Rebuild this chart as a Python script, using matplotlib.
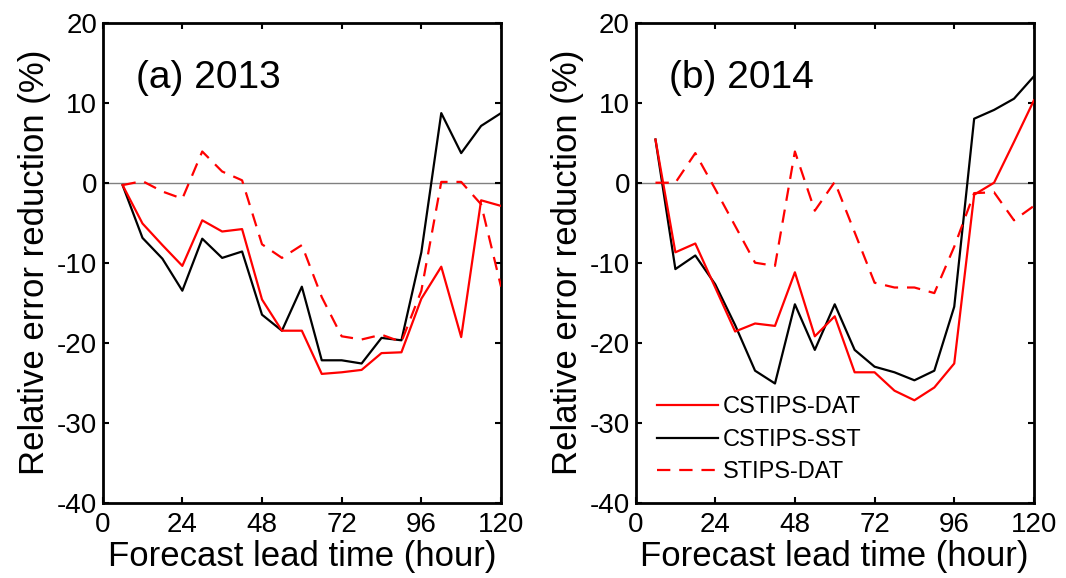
import numpy as np
import matplotlib.pyplot as plt

plt.rcParams['font.family'] = ['Liberation Sans', 'DejaVu Sans']
plt.rcParams['axes.unicode_minus'] = False

# forecast lead time (hour)
hours = [6, 12, 18, 24, 30, 36, 42, 48, 54, 60, 66, 72, 78, 84, 90, 96, 102, 108, 114, 120]

# (a) 2013
dat13 = [-0.3, -5.1, -7.8, -10.4, -4.7, -6.1, -5.8, -14.6, -18.5, -18.5, -23.9, -23.7, -23.4, -21.3, -21.2, -14.5, -10.5, -19.3, -2.2, -2.9]
sst13 = [-0.3, -6.9, -9.5, -13.5, -7.0, -9.4, -8.6, -16.5, -18.5, -13.0, -22.2, -22.2, -22.6, -19.4, -19.7, -8.7, 8.7, 3.7, 7.1, 8.7]
stips13 = [-0.3, 0.2, -1.1, -2.0, 3.9, 1.4, 0.3, -7.7, -9.4, -7.8, -14.3, -19.2, -19.6, -19.0, -19.9, -13.5, 0.1, 0.1, -2.7, -13.0]

# (b) 2014
dat14 = [5.4, -8.7, -7.6, -13.1, -18.6, -17.6, -17.9, -11.2, -19.2, -16.7, -23.7, -23.7, -26.0, -27.2, -25.6, -22.6, -1.5, 0.0, 5.1, 10.3]
sst14 = [5.4, -10.8, -9.1, -12.7, -17.8, -23.5, -25.1, -15.2, -20.9, -15.2, -20.9, -23.0, -23.7, -24.7, -23.5, -15.5, 8.0, 9.1, 10.5, 13.3]
stips14 = [0.0, 0.0, 3.7, -0.8, -5.4, -10.0, -10.4, 3.9, -3.5, 0.1, -6.2, -12.5, -13.1, -13.1, -13.8, -8.0, -1.3, -1.2, -4.7, -2.9]

names = ['CSTIPS-DAT', 'CSTIPS-SST', 'STIPS-DAT']
panels = [('(a) 2013', dat13, sst13, stips13), ('(b) 2014', dat14, sst14, stips14)]

fig = plt.figure(figsize=(10.66, 5.78), dpi=100)
lefts = [0.0963, 0.5962]

for i, (title, dat, sst, stips) in enumerate(panels):
    ax = fig.add_axes([lefts[i], 0.1303, 0.3737, 0.8304])
    ax.axhline(0, color='#808080', lw=1, zorder=1)
    ax.plot(hours, sst, color='black', lw=1.6, label=names[1], zorder=3)
    ax.plot(hours, dat, color='red', lw=1.6, label=names[0], zorder=4)
    ax.plot(hours, stips, color='red', lw=1.6, ls=(0, (6, 4)), label=names[2], zorder=5)
    ax.set_xlim(0, 120)
    ax.set_ylim(-40, 20)
    ax.set_xticks([0, 24, 48, 72, 96, 120])
    ax.set_yticks([-40, -30, -20, -10, 0, 10, 20])
    ax.tick_params(direction='in', length=4, width=1.5, labelsize=20, pad=4,
                   top=True, right=True)
    ax.tick_params(axis='x', pad=7)
    for s in ax.spines.values():
        s.set_linewidth(2)
    ax.set_xlabel('Forecast lead time (hour)', fontsize=25, labelpad=1)
    ax.set_ylabel('Relative error reduction (%)', fontsize=25, labelpad=4)
    ax.text(10, 13.1, title, fontsize=28, va='center', ha='left')

    if i == 1:
        h, l = ax.get_legend_handles_labels()
        order = [l.index(n) for n in names]
        ax.legend([h[k] for k in order], names, loc='lower left',
                  bbox_to_anchor=(0.054, 0.04), frameon=False, fontsize=17,
                  handlelength=2.6, handletextpad=0.2, labelspacing=0.45,
                  borderpad=0, borderaxespad=0)

fig.savefig('out.png', dpi=100)
